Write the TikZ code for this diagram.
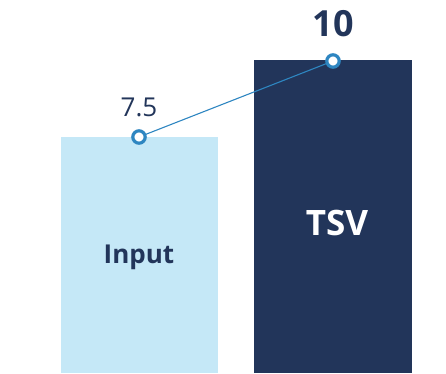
\documentclass[tikz,border=0pt]{standalone}
\usepackage{fontspec}
\setmainfont{Open Sans}
\usepackage{xcolor}

\definecolor{inputblue}{HTML}{C5E8F7}
\definecolor{tsvnavy}{HTML}{22355A}
\definecolor{linkblue}{HTML}{2E86C1}

\begin{document}
\begin{tikzpicture}[x=1pt, y=-1pt]
  \useasboundingbox (0,0) rectangle (446,373);

  % Define the bar tops
  \coordinate (P) at (139,137);
  \coordinate (Q) at (333,61);

  % Draw the bars
  \fill[inputblue] (61,137) rectangle (218,373);
  \fill[tsvnavy] (254,60) rectangle (412,373);

  % Bar names
  \node[text=tsvnavy, font=\fontsize{26}{30}\selectfont\bfseries] (input) at (139,257) {Input};
  \node[text=white, font=\fontsize{35}{40}\selectfont\bfseries] (tsv) at (337,223) {TSV};

  % Draw the line and the markers with values
  \draw[linkblue, line width=1.1pt] (P) -- (Q);
  \draw[linkblue, line width=3.2pt, fill=white] (P) circle (6.2pt) node[above=15pt, text=tsvnavy, font=\fontsize{26}{30}\selectfont] (vp) {7.5};
  \draw[linkblue, line width=3.2pt, fill=white] (Q) circle (6.2pt) node[above=19pt, text=tsvnavy, font=\fontsize{36}{42}\selectfont\bfseries] (vq) {10};
\end{tikzpicture}
\end{document}
